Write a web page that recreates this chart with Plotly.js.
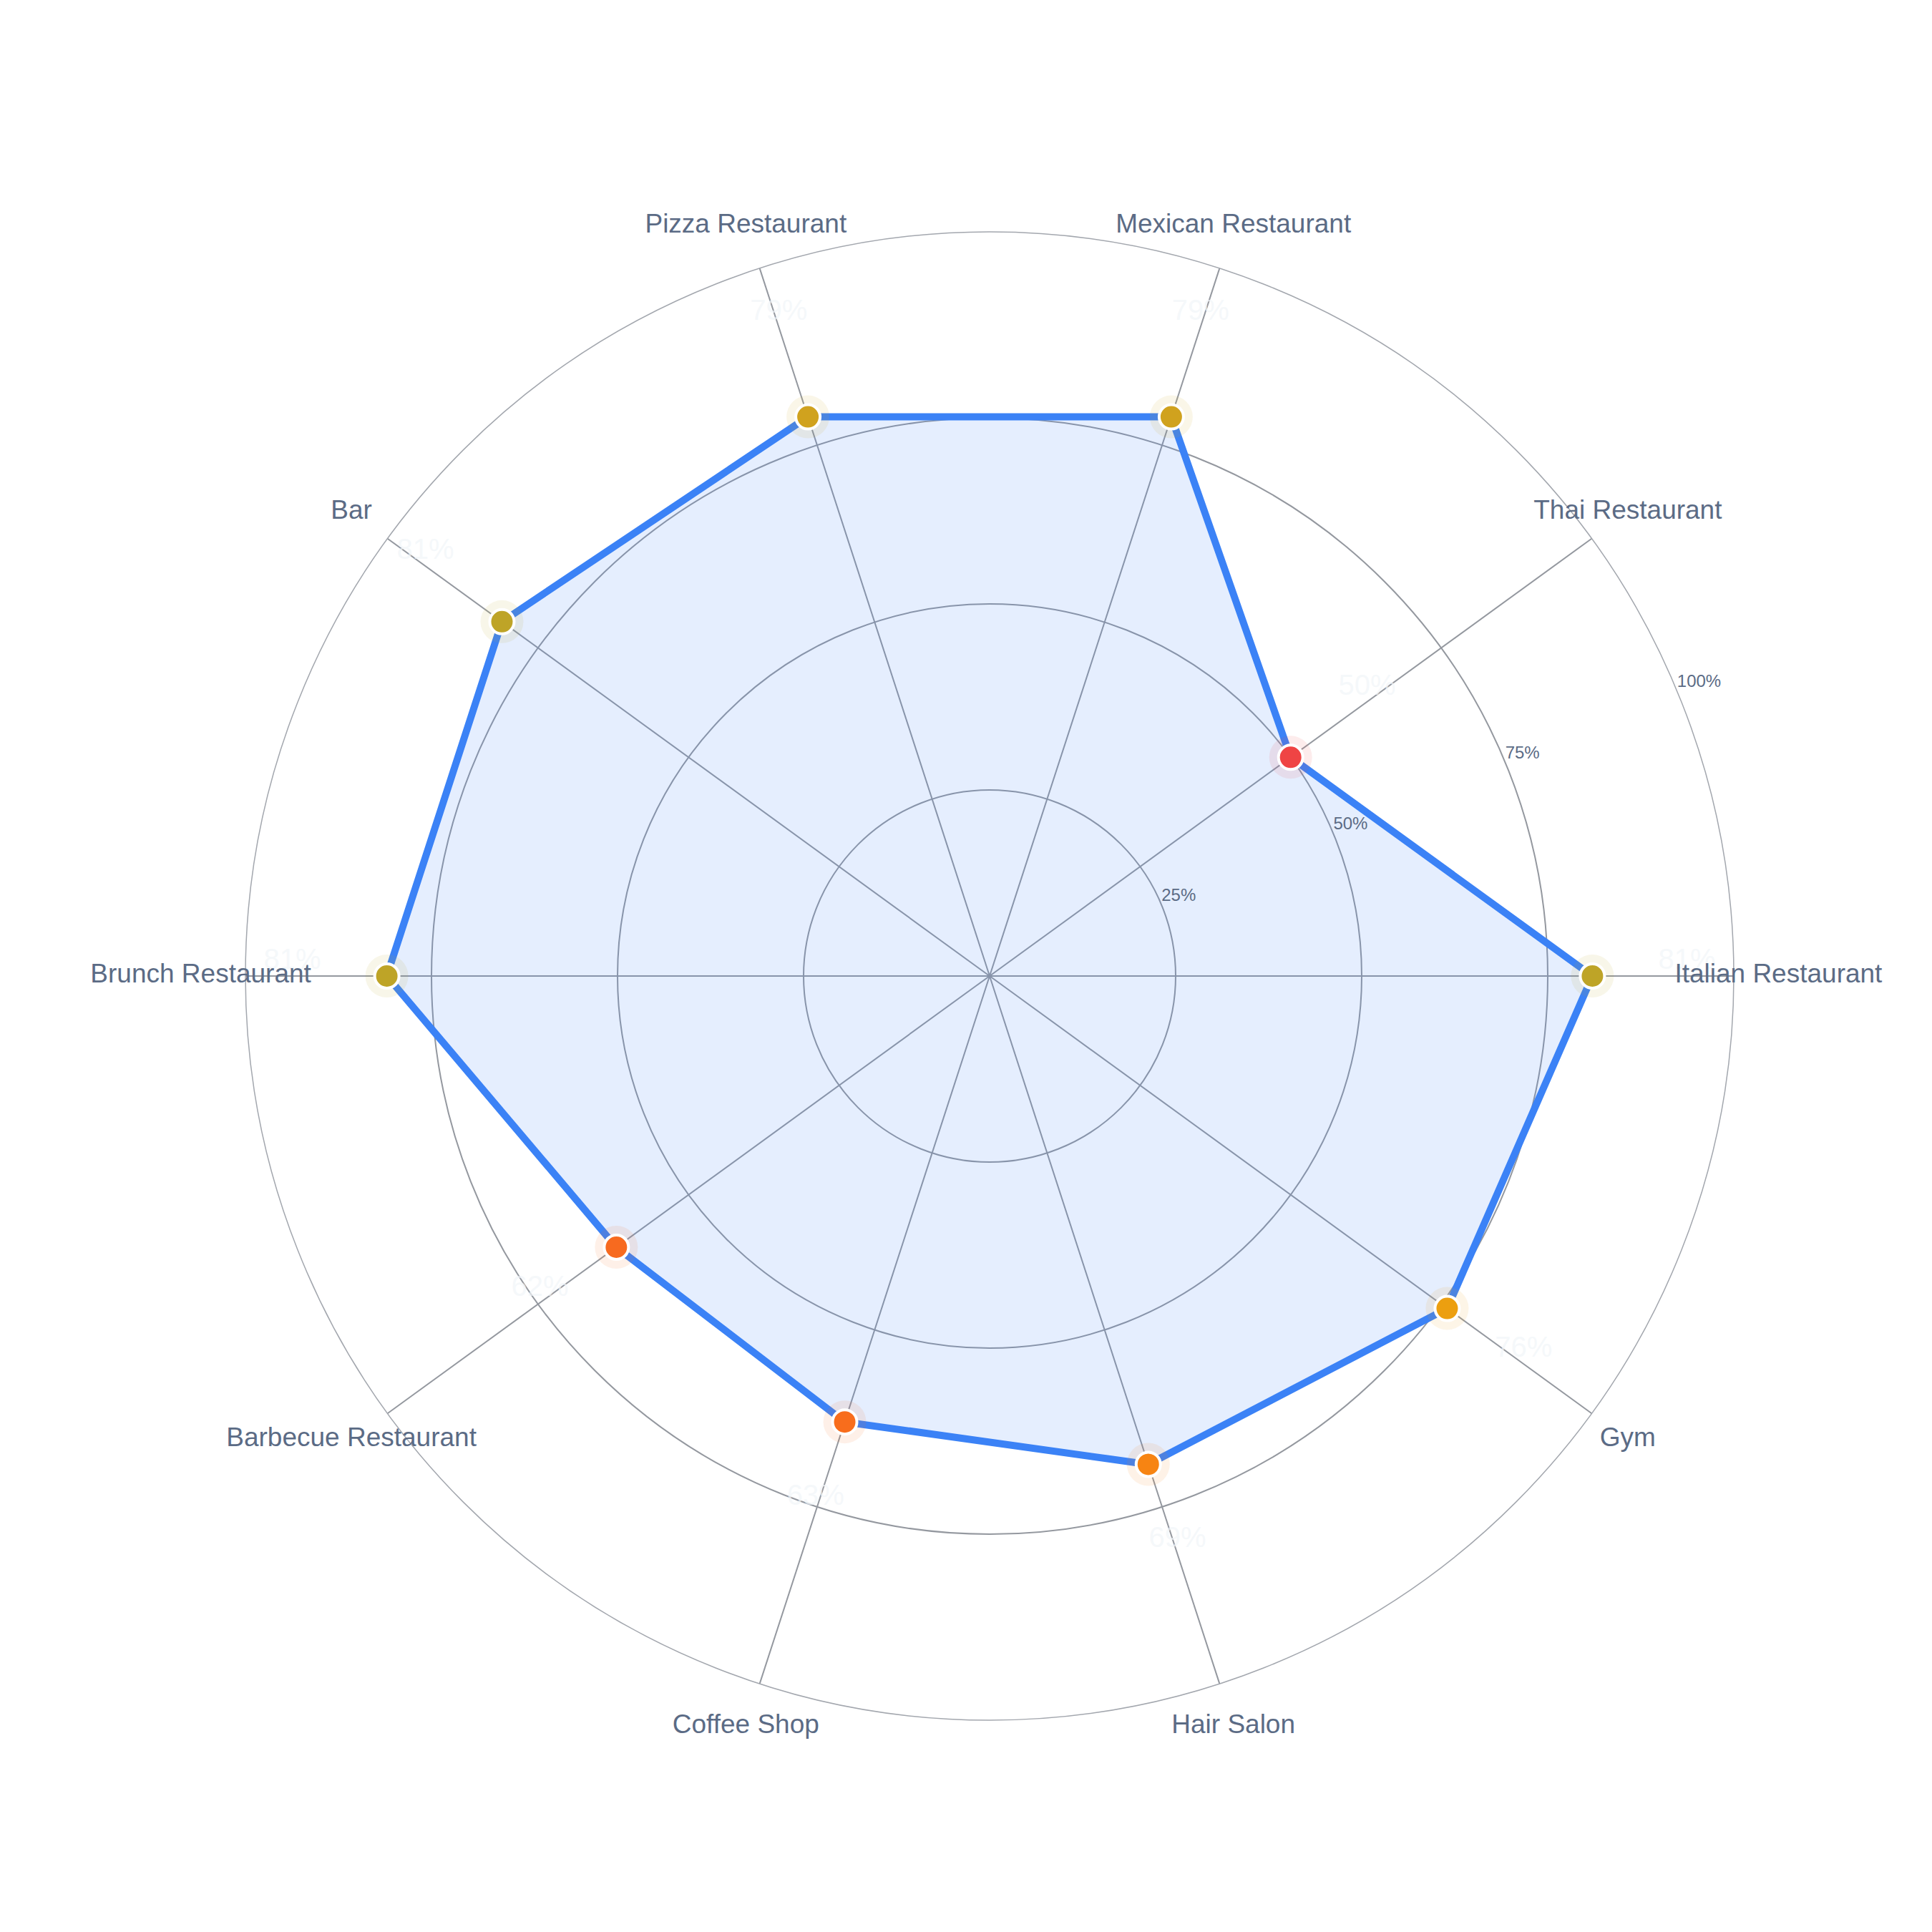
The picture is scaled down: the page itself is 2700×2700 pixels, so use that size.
<!DOCTYPE html>
<html>
<head>
<meta charset="utf-8">
<script src="https://cdn.plot.ly/plotly-3.0.1.min.js"></script>
<style>html,body{margin:0;padding:0;background:#ffffff;}</style>
</head>
<body>
<div id="chart" style="width:2700px;height:2700px;"></div>
<script>
// ---- data ----
const categories = ['Italian Restaurant', 'Thai Restaurant', 'Mexican Restaurant', 'Pizza Restaurant', 'Bar',
                    'Brunch Restaurant', 'Barbecue Restaurant', 'Coffee Shop', 'Hair Salon', 'Gym'];
const scores = [81, 50, 79, 79, 81, 81, 62, 63, 69, 76];
const radialTickVals = [25, 50, 75, 100];
const radialTickText = ['25%', '50%', '75%', '100%'];

// ---- layout geometry / styling ----
const W = 2700, H = 2700;
const CX = 1383, CY = 1364, R = 1040;      // main polar centre & radius (px)
const OUTER_SCALE = 1.2;                    // label overlay polar is 20% larger
const RADIAL_ANGLE = 22.5;                  // angle of the radial tick labels
const FONT = 'Liberation Sans, Arial, Helvetica, sans-serif';
const LABEL_OFFSET = 12.7;                  // radial offset of value labels
const CAT_LABEL_R = 106;                    // category label radius (in % units)
const colorscale = [[0, '#ef4444'], [0.3, '#f97316'], [0.5, '#f59e0b'], [1, '#10b981']];

function domainFor(radius) {
  return {
    x: [(CX - radius) / W, (CX + radius) / W],
    y: [1 - (CY + radius) / H, 1 - (CY - radius) / H]
  };
}

const closedTheta = categories.concat([categories[0]]);
const closedR = scores.concat([scores[0]]);

const traces = [
  {
    type: 'scatterpolar',
    r: closedR,
    theta: closedTheta,
    mode: 'lines',
    fill: 'toself',
    fillcolor: 'rgba(59,130,246,0.135)',
    line: {color: '#3b82f6', width: 10},
    hoverinfo: 'skip',
    showlegend: false
  },
  {
    type: 'scatterpolar',
    r: scores,
    theta: categories,
    mode: 'markers',
    marker: {size: 60, color: scores, colorscale: colorscale, cmin: 50, cmax: 100, opacity: 0.1},
    hoverinfo: 'skip',
    showlegend: false
  },
  {
    type: 'scatterpolar',
    r: scores,
    theta: categories,
    mode: 'markers',
    marker: {size: 34, color: scores, colorscale: colorscale, cmin: 50, cmax: 100,
             line: {color: '#ffffff', width: 4}},
    showlegend: false
  },
  {
    type: 'scatterpolar',
    r: scores.map(v => v + LABEL_OFFSET),
    theta: categories,
    mode: 'text',
    text: scores.map(v => v + '%'),
    textposition: 'top center',
    textfont: {family: FONT, size: 40, color: 'rgba(241,245,249,0.7)'},
    cliponaxis: false,
    hoverinfo: 'skip',
    showlegend: false
  },
  {
    type: 'scatterpolar',
    subplot: 'polar2',
    r: categories.map(() => CAT_LABEL_R),
    theta: categories,
    mode: 'text',
    text: categories,
    textposition: 'middle center',
    textfont: {family: FONT, size: 37, color: '#5b6b85'},
    cliponaxis: false,
    hoverinfo: 'skip',
    showlegend: false
  },
  {
    type: 'scatterpolar',
    subplot: 'polar3',
    r: radialTickVals,
    theta: radialTickVals.map(() => RADIAL_ANGLE),
    mode: 'text',
    text: radialTickText,
    textposition: 'top right',
    textfont: {family: FONT, size: 24, color: '#5b6b85'},
    cliponaxis: false,
    hoverinfo: 'skip',
    showlegend: false
  }
];

const hiddenAngular = {direction: 'counterclockwise', rotation: 0, visible: false};

const layout = {
  width: W,
  height: H,
  paper_bgcolor: '#ffffff',
  plot_bgcolor: '#ffffff',
  margin: {l: 0, r: 0, t: 0, b: 0, pad: 0},
  showlegend: false,
  font: {family: FONT, color: '#5b6b85'},
  polar: {
    domain: domainFor(R),
    bgcolor: '#ffffff',
    radialaxis: {
      range: [0, 100],
      angle: RADIAL_ANGLE,
      tickvals: radialTickVals,
      showticklabels: false,
      showline: false,
      ticks: '',
      gridcolor: '#94989f',
      gridwidth: 2
    },
    angularaxis: {
      type: 'category',
      categoryarray: categories,
      direction: 'counterclockwise',
      rotation: 0,
      showticklabels: false,
      ticks: '',
      showline: true,
      linecolor: '#a3a7ae',
      linewidth: 1.5,
      gridcolor: '#94989f',
      gridwidth: 2
    }
  },
  polar2: {
    domain: domainFor(R * OUTER_SCALE),
    bgcolor: 'rgba(0,0,0,0)',
    radialaxis: {range: [0, 100 * OUTER_SCALE], visible: false},
    angularaxis: Object.assign({type: 'category', categoryarray: categories}, hiddenAngular)
  },
  polar3: {
    domain: domainFor(R),
    bgcolor: 'rgba(0,0,0,0)',
    radialaxis: {range: [0, 100], visible: false},
    angularaxis: Object.assign({type: 'linear', thetaunit: 'degrees'}, hiddenAngular)
  }
};

Plotly.newPlot('chart', traces, layout, {displayModeBar: false, staticPlot: true});
</script>
</body>
</html>
